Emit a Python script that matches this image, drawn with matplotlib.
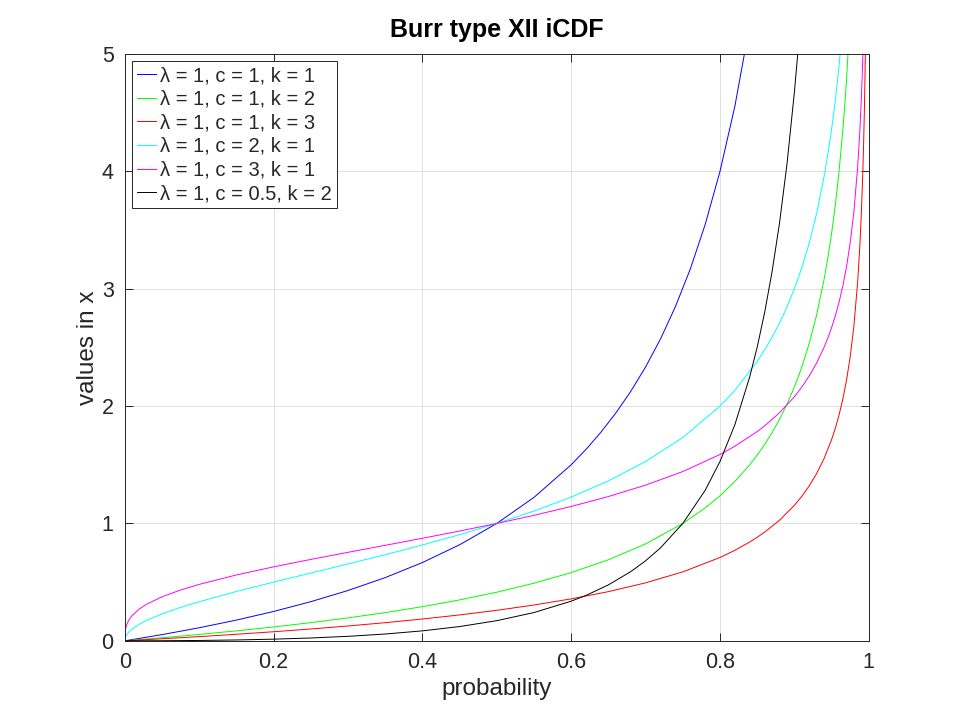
import matplotlib
matplotlib.use("Agg")
import matplotlib.pyplot as plt

plt.rcParams["font.family"] = ["Liberation Sans", "DejaVu Sans"]

# values (probability -> x)
p_b = [0, 0.05, 0.1, 0.15, 0.2, 0.25, 0.3, 0.35, 0.4, 0.45, 0.5, 0.55, 0.6, 0.62, 0.64,
       0.66, 0.68, 0.7, 0.72, 0.74, 0.76, 0.78, 0.8, 0.82, 0.84]
x_b = [0, 0.0526, 0.1111, 0.1765, 0.25, 0.3333, 0.4286, 0.5385, 0.6667, 0.8182, 1.0,
       1.2222, 1.5, 1.6316, 1.7778, 1.9412, 2.125, 2.3333, 2.5714, 2.8462, 3.1667,
       3.5455, 4.0, 4.5556, 5.25]

p_g = [0, 0.05, 0.1, 0.15, 0.2, 0.25, 0.3, 0.35, 0.4, 0.45, 0.5, 0.55, 0.6, 0.65, 0.7,
       0.75, 0.78, 0.8, 0.82, 0.84, 0.85, 0.86, 0.87, 0.88, 0.89, 0.9, 0.91, 0.92, 0.93,
       0.94, 0.945, 0.95, 0.955, 0.96, 0.965, 0.968, 0.97, 0.975]
x_g = [0, 0.0260, 0.0541, 0.0847, 0.1180, 0.1547, 0.1952, 0.2403, 0.2910, 0.3484, 0.4142,
       0.4907, 0.5811, 0.6903, 0.8257, 1.0, 1.1320, 1.2361, 1.3570, 1.5, 1.5820, 1.6726,
       1.7735, 1.8868, 2.0151, 2.1623, 2.3333, 2.5355, 2.7796, 3.0825, 3.2640, 3.4721,
       3.7140, 4.0, 4.3452, 4.5902, 4.7735, 5.3246]

p_r = [0, 0.05, 0.1, 0.15, 0.2, 0.25, 0.3, 0.35, 0.4, 0.45, 0.5, 0.55, 0.6, 0.65, 0.7,
       0.75, 0.8, 0.82, 0.84, 0.85, 0.86, 0.88, 0.9, 0.91, 0.92, 0.93, 0.94, 0.95, 0.955,
       0.96, 0.965, 0.97, 0.975, 0.98, 0.985, 0.988, 0.99, 0.992, 0.993, 0.994, 0.995,
       0.996]
x_r = [0, 0.0172, 0.0357, 0.0557, 0.0772, 0.1006, 0.1263, 0.1544, 0.1856, 0.2205, 0.2599,
       0.3050, 0.3572, 0.4190, 0.4938, 0.5874, 0.7100, 0.7710, 0.8420, 0.8821, 0.9259,
       1.0274, 1.1544, 1.2314, 1.3208, 1.4265, 1.5544, 1.7144, 1.8114, 1.9240, 2.0571,
       2.2182, 2.4200, 2.6840, 3.0548, 3.3679, 3.6416, 4.0, 4.2276, 4.5032, 4.8480, 5.2996]

p_c = [0, 0.0005, 0.001, 0.002, 0.005, 0.01, 0.02, 0.03, 0.05, 0.075, 0.1, 0.15, 0.2,
       0.25, 0.3, 0.35, 0.4, 0.45, 0.5, 0.55, 0.6, 0.65, 0.7, 0.75, 0.8, 0.82, 0.85, 0.86,
       0.87, 0.88, 0.89, 0.9, 0.91, 0.92, 0.93, 0.94, 0.945, 0.95, 0.955, 0.96, 0.965]
x_c = [0, 0.0224, 0.0316, 0.0448, 0.0709, 0.1005, 0.1429, 0.1759, 0.2294, 0.2848, 0.3333,
       0.4201, 0.5, 0.5774, 0.6547, 0.7338, 0.8165, 0.9045, 1.0, 1.1055, 1.2247, 1.3628,
       1.5275, 1.7321, 2.0, 2.1344, 2.3805, 2.4785, 2.5870, 2.7080, 2.8445, 3.0, 3.1798,
       3.3912, 3.6450, 3.9581, 4.1451, 4.3589, 4.6068, 4.8990, 5.2509]

p_m = [0, 0.0005, 0.001, 0.002, 0.003, 0.005, 0.0075, 0.01, 0.02, 0.03, 0.05, 0.075, 0.1,
       0.15, 0.2, 0.25, 0.3, 0.35, 0.4, 0.45, 0.5, 0.55, 0.6, 0.65, 0.7, 0.75, 0.8, 0.82,
       0.85, 0.86, 0.88, 0.9, 0.91, 0.92, 0.93, 0.94, 0.945, 0.95, 0.955, 0.96, 0.965,
       0.97, 0.975, 0.98, 0.985, 0.988, 0.99, 0.991, 0.992, 0.9925]
x_m = [0, 0.0794, 0.1000, 0.1261, 0.1444, 0.1713, 0.1962, 0.2162, 0.2733, 0.3139, 0.3747,
       0.4328, 0.4807, 0.5609, 0.6300, 0.6934, 0.7539, 0.8136, 0.8736, 0.9353, 1.0,
       1.0692, 1.1447, 1.2292, 1.3264, 1.4422, 1.5874, 1.6577, 1.7828, 1.8315, 1.9429,
       2.0801, 2.1624, 2.2572, 2.3685, 2.5025, 2.5805, 2.6684, 2.7686, 2.8845, 3.0210,
       3.1856, 3.3912, 3.6593, 4.0346, 4.3504, 4.6261, 4.7931, 4.9866, 5.0959]

p_k = [0, 0.05, 0.1, 0.15, 0.2, 0.25, 0.3, 0.35, 0.4, 0.45, 0.5, 0.55, 0.6, 0.62, 0.65,
       0.68, 0.7, 0.72, 0.75, 0.78, 0.8, 0.82, 0.84, 0.85, 0.86, 0.87, 0.88, 0.89, 0.9,
       0.905, 0.91]
x_k = [0, 0.000675, 0.00293, 0.00717, 0.01393, 0.02393, 0.03811, 0.05776, 0.08468,
       0.1214, 0.1716, 0.2408, 0.3377, 0.3871, 0.4765, 0.5895, 0.6818, 0.7918, 1.0,
       1.2814, 1.5279, 1.8415, 2.25, 2.5027, 2.7976, 3.1453, 3.5600, 4.0607, 4.6755,
       5.0375, 5.4444]

series = [
    (p_b, x_b, "#0000ff", "λ = 1, c = 1, k = 1"),
    (p_g, x_g, "#00ff00", "λ = 1, c = 1, k = 2"),
    (p_r, x_r, "#ff0000", "λ = 1, c = 1, k = 3"),
    (p_c, x_c, "#00ffff", "λ = 1, c = 2, k = 1"),
    (p_m, x_m, "#ff00ff", "λ = 1, c = 3, k = 1"),
    (p_k, x_k, "#000000", "λ = 1, c = 0.5, k = 2"),
]

txt = "#262626"
fig = plt.figure(figsize=(9.6, 7.2), dpi=100)
ax = fig.add_axes([0.13, 0.11, 0.775, 0.815])

for p, x, col, lab in series:
    ax.plot(p, x, color=col, linewidth=0.7, label=lab)

ax.set_xlim(0, 1)
ax.set_ylim(0, 5)
ax.set_xticks([0, 0.2, 0.4, 0.6, 0.8, 1])
ax.set_xticklabels(["0", "0.2", "0.4", "0.6", "0.8", "1"])
ax.set_yticks([0, 1, 2, 3, 4, 5])
ax.grid(True, color="#e0e0e0", linewidth=0.7)
ax.tick_params(direction="in", top=True, right=True, labelsize=15.5, length=5.5,
               width=0.7, colors=txt, pad=8)
for s in ax.spines.values():
    s.set_linewidth(0.7)
    s.set_color(txt)

ax.set_title("Burr type XII iCDF", fontsize=18, fontweight="bold", pad=12)
ax.set_xlabel("probability", fontsize=17.5, labelpad=4, color=txt)
ax.set_ylabel("values in x", fontsize=17.5, labelpad=2, color=txt)

leg = ax.legend(loc="upper left", fontsize=14.5, fancybox=False, framealpha=1,
                edgecolor=txt, handlelength=0.95, handletextpad=0.2,
                labelspacing=0.23, borderaxespad=0.35, borderpad=0.25)
leg.get_frame().set_linewidth(0.7)
for t in leg.get_texts():
    t.set_color(txt)

fig.savefig("out.png", dpi=100)
